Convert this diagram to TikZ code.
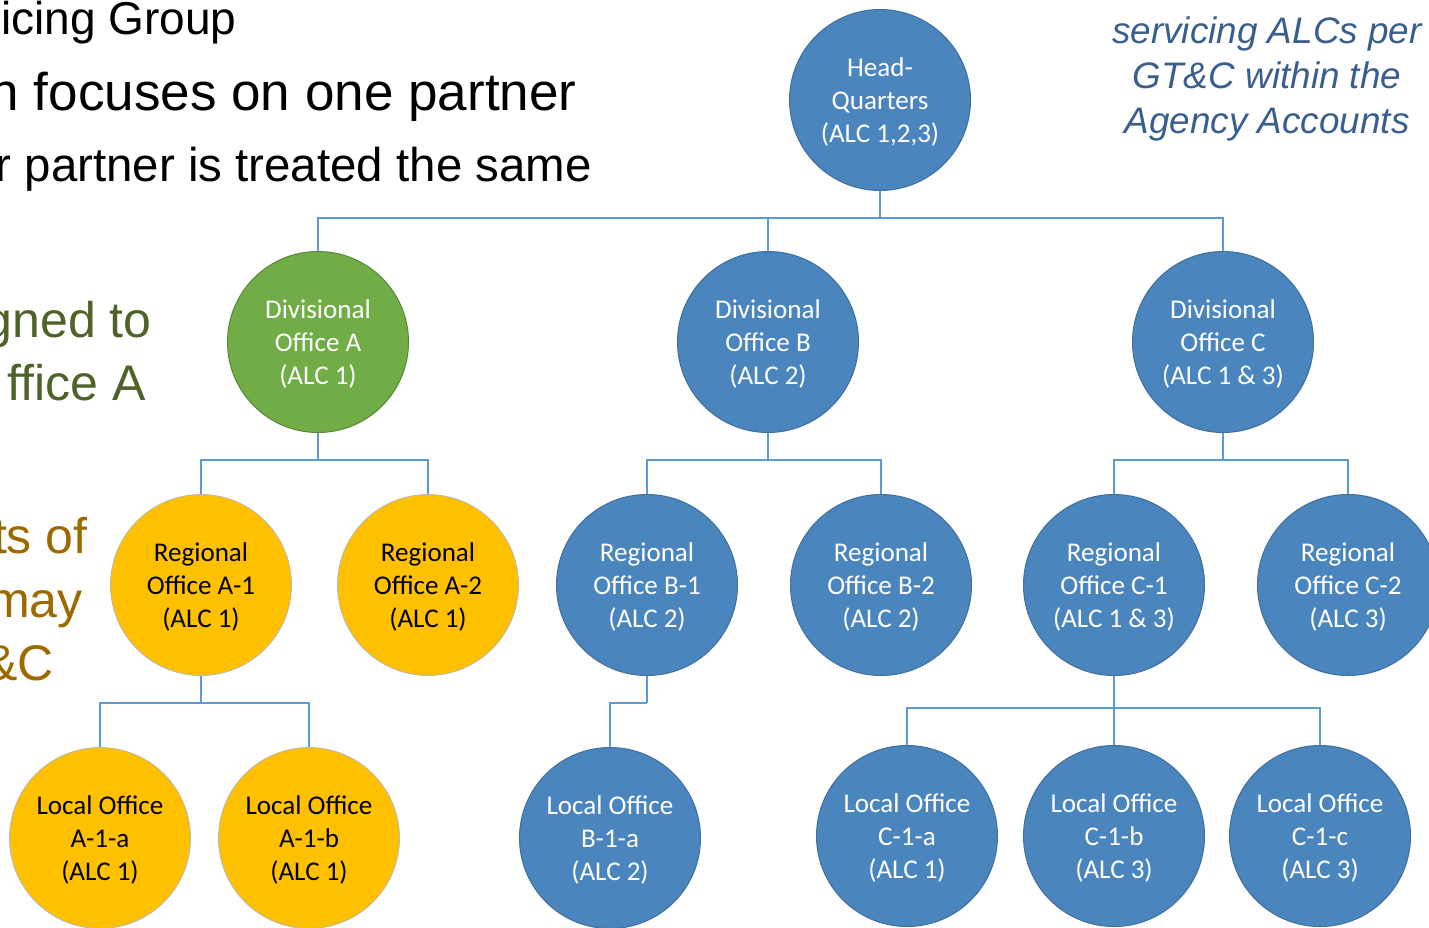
\documentclass[tikz,border=0pt]{standalone}
\usepackage{fontspec}
\setmainfont{Carlito}
\newfontfamily\arialfont{Liberation Sans}
\usetikzlibrary{positioning}
\definecolor{officeblue}{HTML}{4B85BD}
\definecolor{officeblueline}{HTML}{41719C}
\definecolor{officegreen}{HTML}{70AD47}
\definecolor{officeyellow}{HTML}{FFC000}
\definecolor{linkblue}{HTML}{5B9BD5}
\definecolor{noteblue}{HTML}{3A5F8E}
\definecolor{noteolive}{HTML}{4F6228}
\definecolor{notebrown}{HTML}{9C6A00}

\begin{document}
\begin{tikzpicture}[x=0.02cm, y=-0.02cm]
                \tikzstyle{office} = [shape=circle, minimum size=3.62cm, inner sep=0pt, align=center,
                    text depth=0pt, font=\fontsize{15.4}{18.8}\selectfont];
                \tikzstyle{blueoffice} = [office, fill=officeblue, draw=officeblueline, line width=0.6pt, text=white];
                \tikzstyle{greenoffice} = [office, fill=officegreen, draw=officegreen!80!black, line width=0.6pt, text=white];
                \tikzstyle{yellowoffice} = [office, fill=officeyellow, draw=gray!55, line width=0.5pt, text=black];
                \tikzstyle{link} = [draw=linkblue, line width=1.1pt];
                \tikzstyle{note} = [anchor=base east, inner sep=0pt, font=\arialfont\fontsize{28.5}{33}\selectfont];

                \useasboundingbox (0,0) rectangle (1429,927);
                \clip (0,0) rectangle (1429,927);

                % text beside the chart
                \node[note, font=\arialfont\fontsize{26.2}{30}\selectfont] (t1) at (237,34) {icing Group};
                \node[note, font=\arialfont\fontsize{30.2}{35}\selectfont] (t2) at (577,110) {n focuses on one partner};
                \node[note, font=\arialfont\fontsize{27}{31}\selectfont] (t3) at (592,181) {r partner is treated the same};
                \node[note, text=noteolive] (g1) at (152,337) {gned to};
                \node[note, text=noteolive] (g2) at (146,400) {ffice A};
                \node[note, text=notebrown] (b1) at (88,553) {ts of};
                \node[note, text=notebrown] (b2) at (83,617) {may};
                \node[note, text=notebrown] (b3) at (54,680) {\&C};
                \node[align=center, inner sep=0pt, anchor=base, text=noteblue,
                    font=\arialfont\itshape\fontsize{21}{25.6}\selectfont] (r1) at (1267,133)
                    {servicing ALCs per\\GT\&C within the\\Agency Accounts};

                % offices
                \node[blueoffice] (HQ) at (880,100) {Head-\\Quarters\\(ALC 1,2,3)};

                \node[greenoffice] (DivA) at (318,342) {Divisional\\Office A\\(ALC 1)};
                \node[blueoffice] (DivB) at (768,342) {Divisional\\Office B\\(ALC 2)};
                \node[blueoffice] (DivC) at (1223,342) {Divisional\\Office C\\(ALC 1 \& 3)};

                \node[yellowoffice] (RegA1) at (201,585) {Regional\\Office A-1\\(ALC 1)};
                \node[yellowoffice] (RegA2) at (428,585) {Regional\\Office A-2\\(ALC 1)};
                \node[blueoffice] (RegB1) at (647,585) {Regional\\Office B-1\\(ALC 2)};
                \node[blueoffice] (RegB2) at (881,585) {Regional\\Office B-2\\(ALC 2)};
                \node[blueoffice] (RegC1) at (1114,585) {Regional\\Office C-1\\(ALC 1 \& 3)};
                \node[blueoffice] (RegC2) at (1348,585) {Regional\\Office C-2\\(ALC 3)};

                \node[yellowoffice] (LocA1a) at (100,838) {Local Office\\A-1-a\\(ALC 1)};
                \node[yellowoffice] (LocA1b) at (309,838) {Local Office\\A-1-b\\(ALC 1)};
                \node[blueoffice] (LocB1a) at (610,838) {Local Office\\B-1-a\\(ALC 2)};
                \node[blueoffice] (LocC1a) at (907,836) {Local Office\\C-1-a\\(ALC 1)};
                \node[blueoffice] (LocC1b) at (1114,836) {Local Office\\C-1-b\\(ALC 3)};
                \node[blueoffice] (LocC1c) at (1320,836) {Local Office\\C-1-c\\(ALC 3)};

                % connectors
                \draw[link] (HQ.south) -- ++(0,27) coordinate (hqbus);
                \draw[link] (hqbus) -| (DivA.north);
                \draw[link] (hqbus) -| (DivB.north);
                \draw[link] (hqbus) -| (DivC.north);

                \draw[link] (DivA.south) -- ++(0,27) coordinate (abus);
                \draw[link] (abus) -| (RegA1.north);
                \draw[link] (abus) -| (RegA2.north);
                \draw[link] (DivB.south) -- ++(0,27) coordinate (bbus);
                \draw[link] (bbus) -| (RegB1.north);
                \draw[link] (bbus) -| (RegB2.north);
                \draw[link] (DivC.south) -- ++(0,27) coordinate (cbus);
                \draw[link] (cbus) -| (RegC1.north);
                \draw[link] (cbus) -| (RegC2.north);

                \draw[link] (RegA1.south) -- ++(0,27) coordinate (a1bus);
                \draw[link] (a1bus) -| (LocA1a.north);
                \draw[link] (a1bus) -| (LocA1b.north);
                \draw[link] (RegB1.south) -- ++(0,27) coordinate (b1bus);
                \draw[link] (b1bus) -| (LocB1a.north);
                \draw[link] (RegC1.south) -- ++(0,32) coordinate (c1bus);
                \draw[link] (c1bus) -| (LocC1a.north);
                \draw[link] (c1bus) -- (LocC1b.north);
                \draw[link] (c1bus) -| (LocC1c.north);
            \end{tikzpicture}
\end{document}
